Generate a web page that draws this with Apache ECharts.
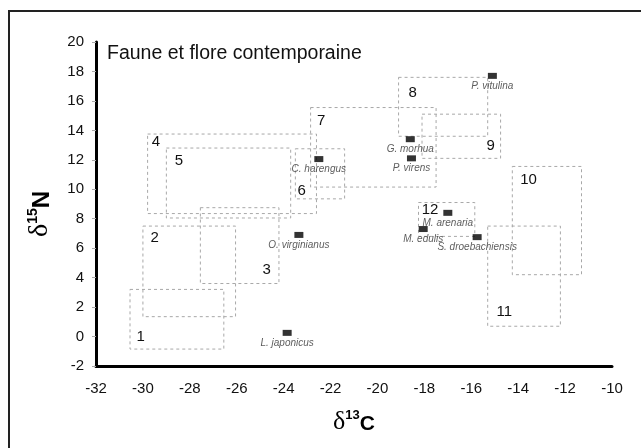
<!DOCTYPE html>
<html>
<head>
<meta charset="utf-8">
<script src="https://cdn.jsdelivr.net/npm/echarts@6/dist/echarts.min.js"></script>
<style>
  html, body { margin: 0; padding: 0; background: #fff; }
  #chart { width: 641px; height: 448px; }
</style>
</head>
<body>
<div id="chart"></div>
<script>
// zones (rectangles) : numero, xmin, xmax, ymin, ymax
var zoneNames = ['1', '2', '3', '4', '5', '6', '7', '8', '9', '10', '11', '12'];
var zoneXmin = [-30.55, -30.0, -27.55, -29.8, -29.0, -23.5, -22.85, -19.1, -18.1, -14.25, -15.3, -18.25];
var zoneXmax = [-26.55, -26.05, -24.2, -22.6, -23.7, -21.4, -17.5, -15.3, -14.75, -11.3, -12.2, -15.85];
var zoneYmin = [-0.85, 1.35, 3.6, 8.35, 8.05, 9.35, 10.15, 13.6, 12.1, 4.2, 0.7, 6.8];
var zoneYmax = [3.2, 7.5, 8.75, 13.75, 12.8, 12.75, 15.55, 17.6, 15.1, 11.55, 7.5, 9.1];
// position du numero de chaque zone
var zoneLabelX = [-30.1, -29.5, -24.72, -29.45, -28.46, -23.23, -22.4, -18.5, -15.17, -13.56, -14.59, -17.76];
var zoneLabelY = [-0.03, 6.7, 4.51, 13.23, 11.92, 9.88, 14.66, 16.56, 12.94, 10.67, 1.67, 8.59];

// especes
var speciesNames = ['P. vitulina', 'G. morhua', 'P. virens', 'C. harengus', 'O. virginianus',
  'L. japonicus', 'M. arenaria', 'M. edulis', 'S. droebachiensis'];
var speciesC = [-15.1, -18.6, -18.55, -22.5, -23.35, -23.85, -17.0, -18.05, -15.75];
var speciesN = [17.7, 13.4, 12.1, 12.05, 6.9, 0.25, 8.4, 7.3, 6.75];

var xTicks = [-32, -10];
var yTicks = [-2, 20];

var zoneData = [];
for (var i = 0; i < zoneNames.length; i++) {
  zoneData.push([zoneXmin[i], zoneXmax[i], zoneYmin[i], zoneYmax[i], zoneLabelX[i], zoneLabelY[i], zoneNames[i]]);
}
var speciesData = [];
for (var j = 0; j < speciesNames.length; j++) {
  speciesData.push({ name: speciesNames[j], value: [speciesC[j], speciesN[j]] });
}

var myChart = echarts.init(document.getElementById('chart'));
var option = {
  animation: false,
  backgroundColor: '#fff',
  title: {
    text: 'Faune et flore contemporaine',
    left: 102,
    top: 39,
    textStyle: { fontFamily: 'Liberation Sans', fontSize: 19.5, fontWeight: 'normal', color: '#111' }
  },
  graphic: [{
    type: 'rect',
    shape: { x: 9, y: 11, width: 700, height: 500 },
    style: { fill: 'none', stroke: '#222', lineWidth: 2 },
    silent: true
  }],
  grid: { left: 96, right: 29, top: 42, bottom: 82 },
  xAxis: {
    type: 'value',
    min: xTicks[0], max: xTicks[1], interval: 2,
    splitLine: { show: false },
    axisTick: { show: false },
    axisLine: { onZero: false, lineStyle: { color: '#000', width: 3 } },
    axisLabel: { margin: 15, color: '#111', fontSize: 15, fontFamily: 'Liberation Sans' },
    name: '{d|δ}{s|13}{c|C}',
    nameLocation: 'middle',
    nameGap: 43,
    nameTextStyle: {
      rich: {
        d: { fontFamily: 'Liberation Serif', fontSize: 26, color: '#000', verticalAlign: 'bottom' },
        s: { fontFamily: 'Liberation Sans', fontSize: 13, fontWeight: 'bold', color: '#000', verticalAlign: 'top' },
        c: { fontFamily: 'Liberation Sans', fontSize: 21, fontWeight: 'bold', color: '#000', verticalAlign: 'bottom' }
      }
    }
  },
  yAxis: {
    type: 'value',
    min: yTicks[0], max: yTicks[1], interval: 2,
    splitLine: { show: false },
    axisTick: { show: true, length: 4, lineStyle: { color: '#aaa' } },
    axisLine: { onZero: false, lineStyle: { color: '#000', width: 3 } },
    axisLabel: { margin: 12, color: '#111', fontSize: 15, fontFamily: 'Liberation Sans' },
    name: '{d|δ}{s|15}{c|N}',
    nameLocation: 'middle',
    nameRotate: 90,
    nameGap: 42,
    nameTextStyle: {
      padding: [0, 20, 0, 0],
      rich: {
        d: { fontFamily: 'Liberation Serif', fontSize: 28, color: '#000', verticalAlign: 'bottom' },
        s: { fontFamily: 'Liberation Sans', fontSize: 14, fontWeight: 'bold', color: '#000', verticalAlign: 'top' },
        c: { fontFamily: 'Liberation Sans', fontSize: 24, fontWeight: 'bold', color: '#000', verticalAlign: 'bottom' }
      }
    }
  },
  series: [{
    type: 'custom',
    name: 'zones',
    silent: true,
    data: zoneData,
    renderItem: function (params, api) {
      var p1 = api.coord([api.value(0), api.value(3)]);
      var p2 = api.coord([api.value(1), api.value(2)]);
      var pl = api.coord([api.value(4), api.value(5)]);
      return {
        type: 'group',
        children: [{
          type: 'rect',
          shape: { x: p1[0], y: p1[1], width: p2[0] - p1[0], height: p2[1] - p1[1] },
          style: { fill: 'none', stroke: '#a8a8a8', lineWidth: 1, lineDash: [3, 3] }
        }, {
          type: 'text',
          x: pl[0], y: pl[1],
          style: {
            text: zoneNames[params.dataIndex],
            fontFamily: 'Liberation Sans', fontSize: 15, fill: '#111',
            align: 'center', verticalAlign: 'middle'
          }
        }]
      };
    },
    encode: { x: [0, 1, 4], y: [2, 3, 5] }
  }, {
    type: 'scatter',
    name: 'especes',
    symbol: 'rect',
    symbolSize: [9, 6],
    itemStyle: { color: '#000' },
    data: speciesData,
    label: {
      show: true,
      position: 'bottom',
      distance: 2,
      formatter: '{b}',
      fontFamily: 'Liberation Sans',
      fontStyle: 'italic',
      fontSize: 10,
      color: '#333'
    }
  }]
};
myChart.setOption(option);
</script>
</body>
</html>
